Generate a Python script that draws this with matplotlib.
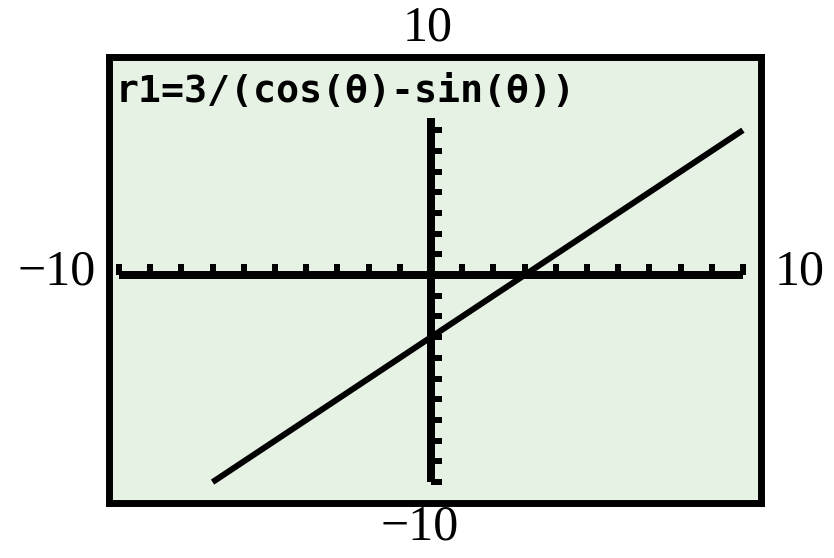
import matplotlib
matplotlib.use("Agg")
import matplotlib.pyplot as plt
import numpy as np

# Data
x_window = [-10, 10]
y_window = [-10, 10]
line_x = [-7, 10]          # r1 = 3/(cos(θ)-sin(θ))  ->  y = x - 3 within the window
line_y = [-10, 7]
x_ticks = [v for v in range(-10, 11) if v != 0]
y_ticks = [v for v in range(-10, 8) if v != 0]
yaxis_top = 7.6
title_text = "r1=3/(cos(θ)-sin(θ))"
label_top, label_bottom, label_left, label_right = "10", "\u221210", "\u221210", "10"

W, H = 834, 558
fig = plt.figure(figsize=(W / 100, H / 100), dpi=100)
# axes box in pixels: left 109, right 761, top 56.5, bottom 503
l, r, t, b = 109, 761, 56.5, 503
ax = fig.add_axes([l / W, 1 - b / H, (r - l) / W, (b - t) / H])
ax.set_facecolor("#e6f2e3")
ax.set_xlim(-10.32, 10.58)
ax.set_ylim(-11.01, 10.56)
for s in ax.spines.values():
    s.set_linewidth(5.0)
    s.set_color("black")
ax.set_xticks([])
ax.set_yticks([])

px = 0.72  # points per pixel at dpi 100
# axes
ax.plot(x_window, [0, 0], color="black", lw=8 * px, solid_capstyle="butt")
ax.plot([0, 0], [y_window[0], yaxis_top], color="black", lw=8 * px, solid_capstyle="butt")
# ticks
ax.vlines(x_ticks, 0, 0.55, color="black", lw=6 * px)
ax.hlines(y_ticks, 0, 0.36, color="black", lw=6 * px)
# graph
ax.plot(line_x, line_y, color="black", lw=6 * px, solid_capstyle="butt")

# title text (calculator font)
ax.text(-10.1, 8.85, title_text, family="DejaVu Sans Mono", fontweight="bold",
        fontsize=27.5, va="center", ha="left", color="black")

# window labels
serif = "Liberation Serif"
fig.text(428 / W, 1 - 28 / H, label_top, family=serif, fontsize=36, ha="center", va="center")
fig.text(420 / W, 1 - 527 / H, label_bottom, family=serif, fontsize=36, ha="center", va="center")
fig.text(96 / W, 1 - 272 / H, label_left, family=serif, fontsize=36, ha="right", va="center")
fig.text(775 / W, 1 - 272 / H, label_right, family=serif, fontsize=36, ha="left", va="center")

fig.savefig("out.png", dpi=100, facecolor="white")
